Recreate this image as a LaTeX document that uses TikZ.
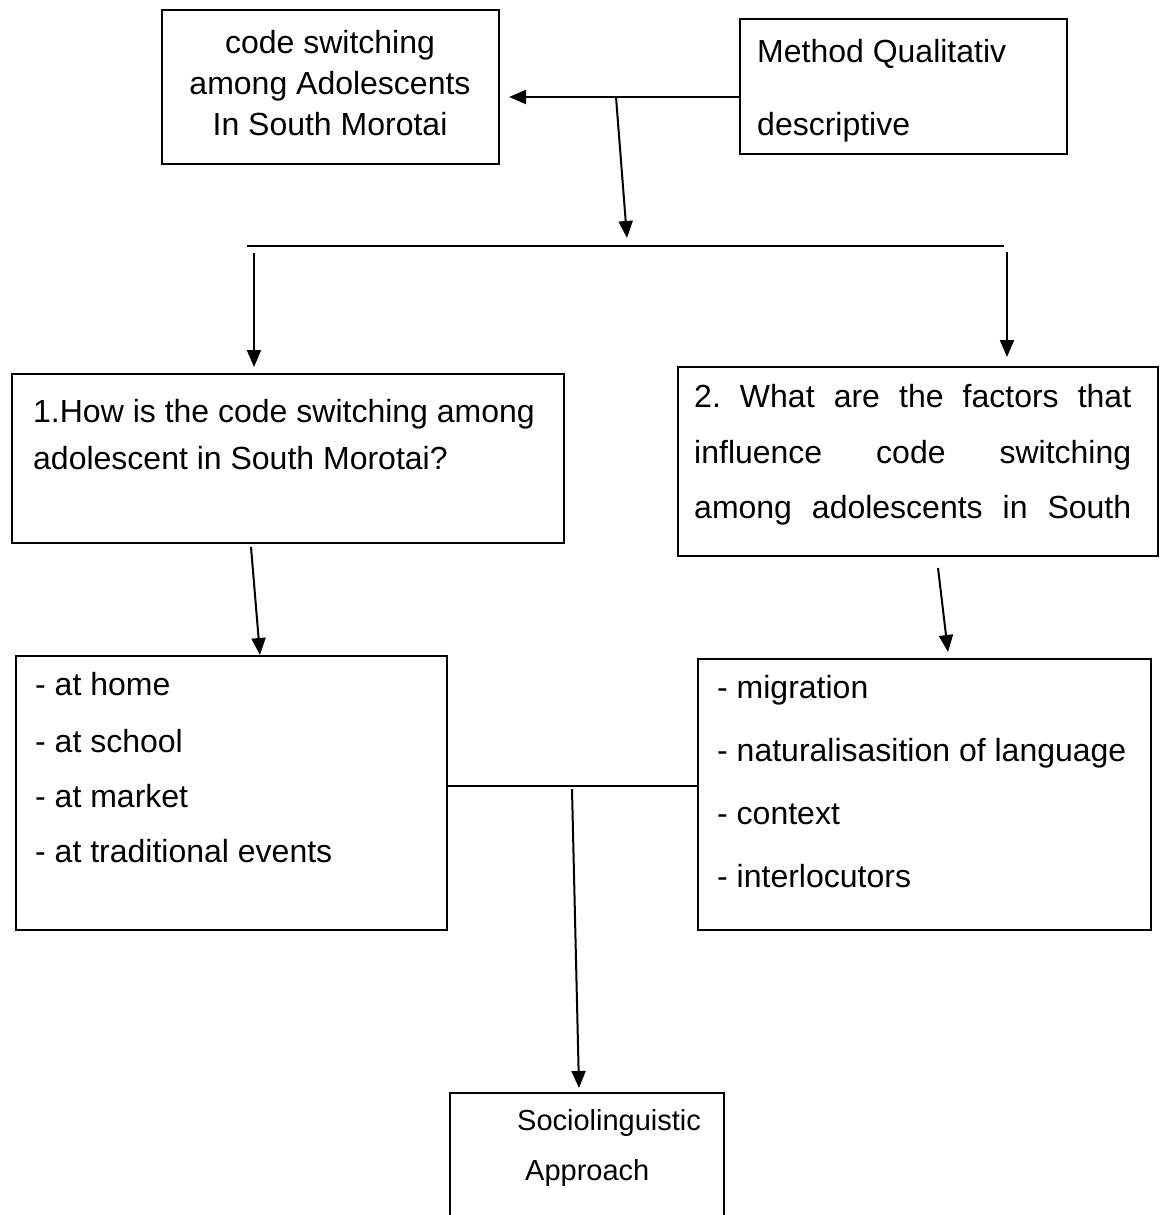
\documentclass[tikz,border=0pt]{standalone}
\usepackage{fontspec}
\setmainfont{Liberation Sans}
\usetikzlibrary{arrows.meta}
\frenchspacing
\begin{document}
\begin{tikzpicture}[x=1pt,y=-1pt,
  box/.style={draw, line width=2pt, inner sep=0pt, anchor=north west},
  txt/.style={inner sep=0pt, anchor=base west, font=\fontsize{32}{38}\selectfont},
  ctxt/.style={txt, anchor=base},
  stxt/.style={inner sep=0pt, anchor=base west, font=\fontsize{29}{35}\selectfont},
  ln/.style={line width=2pt},
  arr/.style={line width=2pt, -{Triangle[length=17pt,width=14pt]}}]
\useasboundingbox[fill=white] (0,0) rectangle (1159,1215);

% boxes
\node[box, minimum width=337pt, minimum height=154pt] (A) at (161,9) {};
\node[box, minimum width=327pt, minimum height=135pt] (B) at (739,18) {};
\node[box, minimum width=552pt, minimum height=169pt] (C) at (11,373) {};
\node[box, minimum width=480pt, minimum height=189pt] (D) at (677,366) {};
\node[box, minimum width=431pt, minimum height=274pt] (E) at (15,655) {};
\node[box, minimum width=453pt, minimum height=271pt] (F) at (697,658) {};
\node[box, minimum width=274pt, minimum height=160pt] (G) at (449,1092) {};

% texts
\node[ctxt] (a1) at (330,53) {code switching};
\node[ctxt] (a2) at (330,94) {among Adolescents};
\node[ctxt] (a3) at (330,135) {In South Morotai};

\node[txt] (b1) at (757,63) {Method Qualitativ};
\node[txt] (b2) at (757,135) {descriptive};

\node[txt] (c1t) at (33,422) {1.How is the code switching among};
\node[txt] (c2t) at (33,469) {adolescent in South Morotai?};

\node[txt] (d1t) at (694,407) {\makebox[437pt][s]{2. What are the factors that}};
\node[txt] (d2t) at (694,463) {\makebox[437pt][s]{influence code switching}};
\node[txt] (d3t) at (694,518) {\makebox[437pt][s]{among adolescents in South}};

\node[txt] (e1) at (35,695) {- at home};
\node[txt] (e2) at (35,752) {- at school};
\node[txt] (e3) at (35,807) {- at market};
\node[txt] (e4) at (35,862) {- at traditional events};

\node[txt] (f1) at (717,698) {- migration};
\node[txt] (f2) at (717,761) {- naturalisasition of language};
\node[txt] (f3) at (717,824) {- context};
\node[txt] (f4) at (717,887) {- interlocutors};

\node[stxt] (g1t) at (517,1130) {Sociolinguistic};
\node[stxt] (g2t) at (525,1180) {Approach};

% connectors
\coordinate (j1) at (616,97);
\draw[arr, shorten >=9pt] (B.west |- j1) -- (A.east |- j1);
\coordinate (j2) at (627,238);
\draw[arr] (j1) -- (j2);
\coordinate (barL) at (247,246);
\coordinate (barR) at (1004,246);
\draw[ln] (barL) -- (barR);
\coordinate (l1) at (254,253);
\draw[arr, shorten >=6pt] (l1) -- (l1 |- C.north);
\coordinate (r1) at (1007,252);
\draw[arr, shorten >=9pt] (r1) -- (r1 |- D.north);
\coordinate (c1) at (251,547);
\coordinate (c2) at (260,655);
\draw[arr] (c1) -- (c2);
\coordinate (d1) at (938,568);
\coordinate (d2) at (948,652);
\draw[arr] (d1) -- (d2);
\coordinate (m) at (0,786);
\draw[ln] (E.east |- m) -- (F.west |- m);
\coordinate (g1) at (572,789);
\coordinate (g2) at (579,1088);
\draw[arr] (g1) -- (g2);
\end{tikzpicture}
\end{document}
